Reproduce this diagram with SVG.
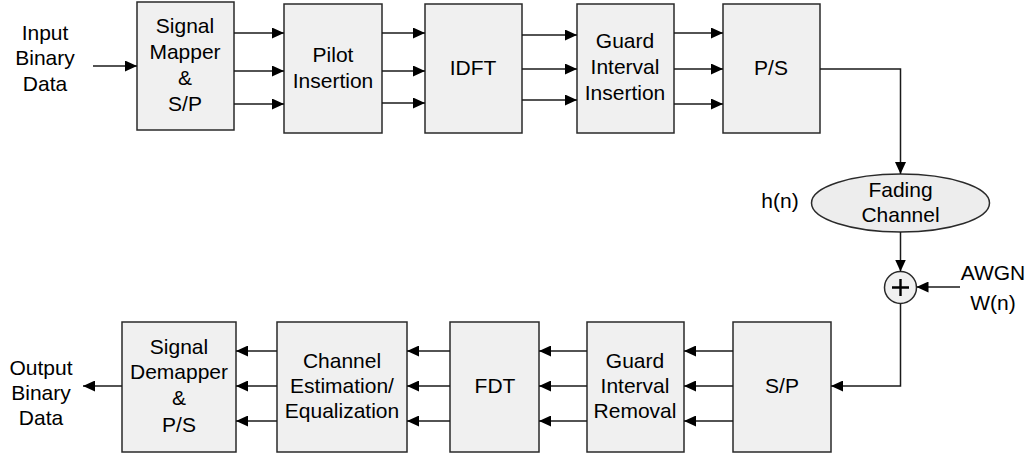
<svg xmlns="http://www.w3.org/2000/svg" width="1030" height="455" viewBox="0 0 1030 455">
  <style>
    .box { fill: #f0f0f0; stroke: #2a2a2a; stroke-width: 1.5; }
    .txt { font-family: "Liberation Sans", Arial, sans-serif; font-size: 21px; fill: #000000; text-anchor: middle; }
    .wire { fill: none; stroke: #1a1a1a; stroke-width: 1.5; }
    .arr { marker-end: url(#head); }
  </style>
  <defs>
    <marker id="head" viewBox="0 0 12 11" refX="12" refY="5.5" markerWidth="12" markerHeight="11" markerUnits="userSpaceOnUse" orient="auto">
      <path d="M0,0 L12,5.5 L0,11 Z" fill="#000000"/>
    </marker>
  </defs>

  <!-- free labels -->
  <text class="txt" x="45" y="40">Input</text>
  <text class="txt" x="45" y="65">Binary</text>
  <text class="txt" x="45" y="91">Data</text>
  <text class="txt" x="41" y="375">Output</text>
  <text class="txt" x="41" y="400">Binary</text>
  <text class="txt" x="41" y="425">Data</text>
  <text class="txt" x="780" y="208">h(n)</text>
  <text class="txt" x="993" y="280">AWGN</text>
  <text class="txt" x="993" y="310">W(n)</text>

  <!-- transmitter -->
  <g id="mapper">
    <rect class="box" x="137" y="2" width="97" height="128"/>
    <text class="txt" x="185" y="33">Signal</text>
    <text class="txt" x="185" y="59">Mapper</text>
    <text class="txt" x="185" y="85">&amp;</text>
    <text class="txt" x="185" y="111">S/P</text>
  </g>
  <g id="pilot">
    <rect class="box" x="284" y="4" width="98" height="129"/>
    <text class="txt" x="333" y="62">Pilot</text>
    <text class="txt" x="333" y="88">Insertion</text>
  </g>
  <g id="idft">
    <rect class="box" x="425" y="4" width="97" height="129"/>
    <text class="txt" x="473" y="75">IDFT</text>
  </g>
  <g id="guard-ins">
    <rect class="box" x="577" y="4" width="97" height="129"/>
    <text class="txt" x="625" y="48">Guard</text>
    <text class="txt" x="625" y="74">Interval</text>
    <text class="txt" x="625" y="100">Insertion</text>
  </g>
  <g id="ps">
    <rect class="box" x="723" y="4" width="97" height="129"/>
    <text class="txt" x="771" y="75">P/S</text>
  </g>

  <!-- channel -->
  <g id="fading">
    <ellipse cx="900.5" cy="203" rx="89" ry="29" fill="#ededed" stroke="#2a2a2a" stroke-width="1.5"/>
    <text class="txt" x="900.5" y="197">Fading</text>
    <text class="txt" x="900.5" y="222">Channel</text>
  </g>
  <g id="adder">
    <circle cx="900.5" cy="287.5" r="16" fill="#f0f0f0" stroke="#2a2a2a" stroke-width="1.5"/>
    <path d="M892,287.5 H909 M900.5,279 V296" stroke="#000000" stroke-width="2.4" fill="none"/>
  </g>

  <!-- receiver -->
  <g id="sp">
    <rect class="box" x="733" y="322" width="98" height="130"/>
    <text class="txt" x="782" y="393">S/P</text>
  </g>
  <g id="guard-rem">
    <rect class="box" x="587" y="322" width="97" height="130"/>
    <text class="txt" x="635" y="368">Guard</text>
    <text class="txt" x="635" y="393">Interval</text>
    <text class="txt" x="635" y="418">Removal</text>
  </g>
  <g id="fdt">
    <rect class="box" x="450" y="322" width="89" height="130"/>
    <text class="txt" x="495" y="393">FDT</text>
  </g>
  <g id="estimation">
    <rect class="box" x="277" y="322" width="130" height="130"/>
    <text class="txt" x="342" y="368">Channel</text>
    <text class="txt" x="342" y="393">Estimation/</text>
    <text class="txt" x="342" y="418">Equalization</text>
  </g>
  <g id="demapper">
    <rect class="box" x="122" y="322" width="114" height="130"/>
    <text class="txt" x="179" y="354">Signal</text>
    <text class="txt" x="179" y="379">Demapper</text>
    <text class="txt" x="179" y="405">&amp;</text>
    <text class="txt" x="179" y="432">P/S</text>
  </g>

  <g id="connectors">
    <line class="wire arr" x1="93" y1="66" x2="137" y2="66"/>
    <line class="wire arr" x1="234" y1="33" x2="284" y2="33"/>
    <line class="wire arr" x1="234" y1="71" x2="284" y2="71"/>
    <line class="wire arr" x1="234" y1="104" x2="284" y2="104"/>
    <line class="wire arr" x1="382" y1="33" x2="425" y2="33"/>
    <line class="wire arr" x1="382" y1="71" x2="425" y2="71"/>
    <line class="wire arr" x1="382" y1="103" x2="425" y2="103"/>
    <line class="wire arr" x1="522" y1="35" x2="577" y2="35"/>
    <line class="wire arr" x1="522" y1="69" x2="577" y2="69"/>
    <line class="wire arr" x1="522" y1="100" x2="577" y2="100"/>
    <line class="wire arr" x1="674" y1="33" x2="723" y2="33"/>
    <line class="wire arr" x1="674" y1="69" x2="723" y2="69"/>
    <line class="wire arr" x1="674" y1="104" x2="723" y2="104"/>
    <path class="wire arr" d="M820,69 H900.5 V174"/>
    <line class="wire arr" x1="900.5" y1="232" x2="900.5" y2="271.5"/>
    <line class="wire arr" x1="960" y1="287" x2="916.5" y2="287"/>
    <path class="wire arr" d="M900.5,303.5 V386 H831"/>
    <line class="wire arr" x1="733" y1="351" x2="684" y2="351"/>
    <line class="wire arr" x1="733" y1="386" x2="684" y2="386"/>
    <line class="wire arr" x1="733" y1="421" x2="684" y2="421"/>
    <line class="wire arr" x1="587" y1="351" x2="539" y2="351"/>
    <line class="wire arr" x1="587" y1="386" x2="539" y2="386"/>
    <line class="wire arr" x1="587" y1="421" x2="539" y2="421"/>
    <line class="wire arr" x1="450" y1="351" x2="407" y2="351"/>
    <line class="wire arr" x1="450" y1="386" x2="407" y2="386"/>
    <line class="wire arr" x1="450" y1="421" x2="407" y2="421"/>
    <line class="wire arr" x1="277" y1="351" x2="236" y2="351"/>
    <line class="wire arr" x1="277" y1="386" x2="236" y2="386"/>
    <line class="wire arr" x1="277" y1="421" x2="236" y2="421"/>
    <line class="wire arr" x1="122" y1="386" x2="83" y2="386"/>
  </g>
</svg>
